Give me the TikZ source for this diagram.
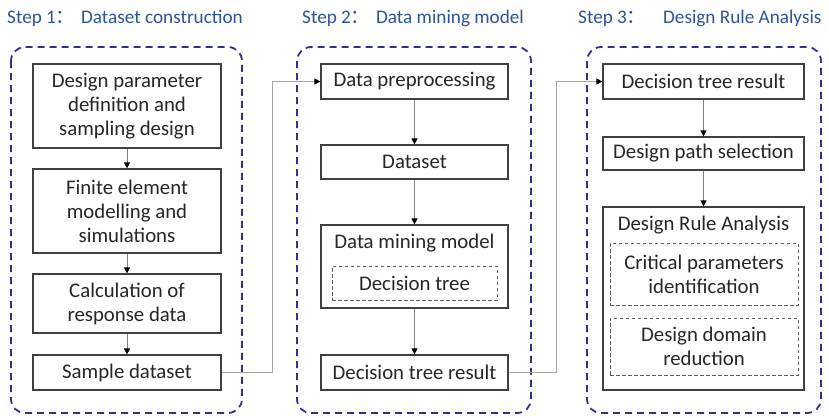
\documentclass[tikz,border=0pt]{standalone}
\usepackage{fontspec}
\setmainfont{Carlito}
\newfontfamily\cjk{Noto Sans CJK SC}
\usetikzlibrary{arrows.meta}

\definecolor{stepblue}{RGB}{47,84,150}
\definecolor{panelblue}{RGB}{48,50,140}
\definecolor{boxgray}{RGB}{64,64,64}
\definecolor{textgray}{RGB}{38,38,38}
\definecolor{flowgray}{RGB}{128,128,128}
\definecolor{linkgray}{RGB}{166,166,166}

\newcommand{\boxfont}{\fontsize{20.8bp}{24bp}\selectfont}
\newcommand{\headfont}{\fontsize{19.2bp}{23bp}\selectfont}

\tikzset{
  panel/.style={draw=panelblue, line width=1.8bp, dash pattern=on 7bp off 5bp, rounded corners=14bp},
  stepbox/.style={draw=boxgray, line width=1.2bp, text=textgray, align=center, inner sep=0pt, minimum width=188bp, font=\boxfont},
  subbox/.style={draw=boxgray!85, line width=0.9bp, dash pattern=on 3.5bp off 2.5bp, text=textgray, align=center, inner sep=0pt, font=\boxfont},
  boxtitle/.style={text=textgray, inner sep=0pt, font=\boxfont},
  heading/.style={text=stepblue, anchor=base west, inner sep=0pt, font=\headfont},
  flow/.style={draw=flowgray, line width=0.9bp, -{Triangle[length=6bp,width=6bp,color=black]}},
  link/.style={draw=linkgray, line width=1.1bp, -{Triangle[length=6bp,width=6bp,color=black]}},
}

\begin{document}
\begin{tikzpicture}[x=1bp,y=-1bp]
  \useasboundingbox (0,0) rectangle (829,417);

  \draw[panel] (11,47) rectangle (242,413);
  \draw[panel] (297,47) rectangle (531,413);
  \draw[panel] (587,47) rectangle (821,413);

  \node[heading] (head1) at (7,23) {Step 1{\cjk ：}\hspace{6bp}Dataset construction};
  \node[heading] (head2) at (302,23) {Step 2{\cjk ：}\hspace{6bp}Data mining model};
  \node[heading] (head3) at (578,23) {Step 3{\cjk ：}\hspace{17bp}Design Rule Analysis};

  \node[stepbox, minimum height=84bp] (param) at (127,106) {Design parameter\\definition and\\sampling design};
  \node[stepbox, minimum height=84bp] (fem) at (127,211) {Finite element\\modelling and\\simulations};
  \node[stepbox, minimum height=59bp] (calc) at (127,303.5) {Calculation of\\response data};
  \node[stepbox, minimum height=35bp] (sample) at (127,372.5) {Sample dataset};

  \node[stepbox, minimum width=187bp, minimum height=35bp] (prep) at (414.5,81.5) {Data preprocessing};
  \node[stepbox, minimum width=187bp, minimum height=34bp] (dataset) at (414.5,162) {Dataset};
  \node[stepbox, minimum width=187bp, minimum height=83bp] (mining) at (414.5,266.5) {};
  \node[boxtitle] (miningtitle) at (414.5,243) {Data mining model};
  \node[subbox, minimum width=165bp, minimum height=34bp] (tree) at (414.5,283) {Decision tree};
  \node[stepbox, minimum width=187bp, minimum height=35bp] (treeres) at (414.5,372.5) {Decision tree result};

  \node[stepbox, minimum width=201bp, minimum height=35bp] (result) at (703.5,81.5) {Decision tree result};
  \node[stepbox, minimum width=201bp, minimum height=33bp] (path) at (703.5,153.5) {Design path selection};
  \node[stepbox, minimum width=201bp, minimum height=183bp] (rules) at (703.5,298.5) {};
  \node[boxtitle] (rulestitle) at (703.5,225) {Design Rule Analysis};
  \node[subbox, minimum width=188bp, minimum height=62bp] (critical) at (704,274) {Critical parameters\\identification};
  \node[subbox, minimum width=188bp, minimum height=57bp] (domain) at (704,346.5) {Design domain\\reduction};

  \draw[flow] (param.south) -- (fem.north);
  \draw[flow] (fem.south) -- (calc.north);
  \draw[flow] (calc.south) -- (sample.north);
  \draw[flow] (prep.south) -- (dataset.north);
  \draw[flow] (dataset.south) -- (mining.north);
  \draw[flow] (mining.south) -- (treeres.north);
  \draw[flow] (result.south) -- (path.north);
  \draw[flow] (path.south) -- (rules.north);

  \draw[link] (sample.east) -- ++(51,0) |- (prep.west);
  \draw[link] (treeres.east) -- ++(48,0) |- (result.west);
\end{tikzpicture}
\end{document}
